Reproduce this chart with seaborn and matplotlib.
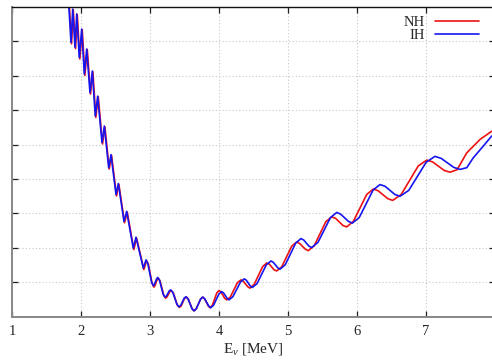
import matplotlib
matplotlib.use("Agg")
import matplotlib.pyplot as plt
import seaborn as sns
import pandas as pd
from matplotlib.lines import Line2D

# ---- data (E in MeV, arbitrary y units) ----
ih_x = [1.809, 1.855, 1.880, 1.913, 1.938, 1.975, 2.010, 2.048, 2.083, 2.130,
        2.164, 2.207, 2.242, 2.304, 2.338, 2.401, 2.435, 2.507, 2.541, 2.623,
        2.662, 2.758, 2.797, 2.903, 2.942, 2.969, 3.022, 3.048, 3.064, 3.096,
        3.112, 3.138, 3.191, 3.217, 3.238, 3.279, 3.300, 3.330, 3.390, 3.420,
        3.446, 3.496, 3.522, 3.551, 3.609, 3.638, 3.670, 3.733, 3.764, 3.793,
        3.851, 3.880, 3.920, 3.999, 4.039, 4.066, 4.119, 4.145, 4.201, 4.312,
        4.367, 4.396, 4.454, 4.483, 4.551, 4.686, 4.754, 4.787, 4.852, 4.884,
        4.960, 5.112, 5.188, 5.227, 5.304, 5.343, 5.434, 5.615, 5.706, 5.763,
        5.876, 5.932, 6.032, 6.233, 6.333, 6.406, 6.551, 6.623, 6.750, 7.003,
        7.130, 7.221, 7.402, 7.493, 7.590, 7.686, 7.831, 7.952]
ih_y = [9.52, 7.97, 8.94, 7.83, 8.80, 7.53, 8.36, 7.05, 7.78, 6.51,
        7.14, 5.83, 6.41, 5.06, 5.54, 4.33, 4.71, 3.55, 3.87, 2.77,
        3.06, 1.99, 2.31, 1.41, 1.65, 1.54, 1.01, 0.90, 0.94, 1.10,
        1.14, 1.06, 0.65, 0.57, 0.60, 0.75, 0.78, 0.71, 0.36, 0.29,
        0.33, 0.54, 0.58, 0.52, 0.23, 0.17, 0.23, 0.51, 0.57, 0.52,
        0.31, 0.26, 0.33, 0.66, 0.73, 0.69, 0.53, 0.49, 0.58, 1.01,
        1.10, 1.06, 0.89, 0.85, 0.96, 1.51, 1.62, 1.58, 1.42, 1.38,
        1.51, 2.14, 2.27, 2.23, 2.05, 2.01, 2.16, 2.88, 3.03, 2.98,
        2.77, 2.72, 2.88, 3.68, 3.84, 3.79, 3.55, 3.50, 3.67, 4.49,
        4.66, 4.60, 4.34, 4.28, 4.33, 4.62, 4.96, 5.25]

nh_x = [1.817, 1.863, 1.888, 1.921, 1.946, 1.983, 2.018, 2.056, 2.091, 2.138,
        2.172, 2.215, 2.250, 2.312, 2.346, 2.409, 2.443, 2.515, 2.549, 2.631,
        2.670, 2.766, 2.805, 2.911, 2.950, 2.977, 3.030, 3.056, 3.072, 3.104,
        3.120, 3.146, 3.199, 3.225, 3.246, 3.287, 3.308, 3.338, 3.396, 3.426,
        3.451, 3.500, 3.527, 3.555, 3.611, 3.640, 3.670, 3.733, 3.764, 3.790,
        3.845, 3.870, 3.903, 3.968, 4.000, 4.028, 4.084, 4.112, 4.164, 4.267,
        4.319, 4.352, 4.417, 4.449, 4.510, 4.631, 4.691, 4.727, 4.800, 4.836,
        4.909, 5.054, 5.126, 5.168, 5.252, 5.294, 5.379, 5.548, 5.633, 5.688,
        5.797, 5.851, 5.947, 6.140, 6.236, 6.306, 6.447, 6.517, 6.640, 6.887,
        7.010, 7.095, 7.264, 7.348, 7.450, 7.590, 7.783, 7.952]
nh_y = [9.52, 7.93, 8.92, 7.79, 8.78, 7.49, 8.34, 7.01, 7.76, 6.47,
        7.12, 5.79, 6.39, 5.02, 5.52, 4.29, 4.69, 3.51, 3.85, 2.73,
        3.04, 1.95, 2.29, 1.37, 1.63, 1.52, 0.97, 0.86, 0.90, 1.08,
        1.12, 1.04, 0.62, 0.54, 0.57, 0.73, 0.76, 0.69, 0.34, 0.27,
        0.31, 0.53, 0.57, 0.51, 0.23, 0.17, 0.23, 0.51, 0.57, 0.52,
        0.31, 0.26, 0.33, 0.69, 0.76, 0.72, 0.53, 0.49, 0.57, 0.99,
        1.07, 1.03, 0.87, 0.83, 0.94, 1.45, 1.56, 1.53, 1.36, 1.33,
        1.45, 2.05, 2.17, 2.13, 1.96, 1.92, 2.06, 2.76, 2.90, 2.86,
        2.65, 2.61, 2.77, 3.55, 3.71, 3.66, 3.43, 3.38, 3.55, 4.38,
        4.55, 4.50, 4.25, 4.20, 4.27, 4.76, 5.15, 5.39]

series_names = ["NH", "IH"]
series_colors = ["#ee1111", "#1515f0"]
x_ticks = [1, 2, 3, 4, 5, 6, 7]
y_ticks = [1, 2, 3, 4, 5, 6, 7, 8]
x_label = "E$_\\nu$ [MeV]"

df = pd.concat([
    pd.DataFrame({"E": nh_x, "v": nh_y, "curve": "NH"}),
    pd.DataFrame({"E": ih_x, "v": ih_y, "curve": "IH"}),
], ignore_index=True)

sns.set_style("ticks")
plt.rcParams["font.family"] = ["Liberation Serif", "DejaVu Serif"]
plt.rcParams["mathtext.fontset"] = "custom"
plt.rcParams["mathtext.rm"] = "Liberation Serif"
plt.rcParams["mathtext.it"] = "Liberation Serif:italic"

fig = plt.figure(figsize=(4.92, 3.60), dpi=100)
ax = fig.add_axes([12 / 492, (360 - 316.7) / 360, 483 / 492, (316.7 - 7) / 360])

sns.lineplot(data=df, x="E", y="v", hue="curve", hue_order=series_names,
             palette=dict(zip(series_names, series_colors)),
             sort=False, estimator=None, linewidth=1.2, ax=ax, legend=False)

ax.set_xlim(1, 8)
ax.set_ylim(0, 9)
ax.set_xticks(x_ticks)
ax.set_xticklabels([str(t) for t in x_ticks], fontsize=10.5)
ax.set_yticks(y_ticks)
ax.set_yticklabels([])
ax.set_xlabel(x_label, fontsize=11, labelpad=2)
ax.set_ylabel("")

ax.grid(True, color="#c8c8c8", linestyle=(0, (1, 2)), linewidth=0.8)
ax.tick_params(axis="both", direction="in", top=True, right=True,
               length=4, width=0.9, color="#222222", pad=6)

for side in ["left", "bottom"]:
    ax.spines[side].set_color("#888888")
    ax.spines[side].set_linewidth(1.4)
for side in ["top", "right"]:
    ax.spines[side].set_color("#111111")
    ax.spines[side].set_linewidth(1.0)

handles = [Line2D([0], [0], color=c, lw=1.2) for c in series_colors]
ax.legend(handles, series_names, loc="upper right", bbox_to_anchor=(0.985, 1.0),
          frameon=False, markerfirst=False, fontsize=10.5, handlelength=3.0,
          handletextpad=0.7, labelspacing=0.0, borderaxespad=0.2)

fig.savefig("out.png", dpi=100)
